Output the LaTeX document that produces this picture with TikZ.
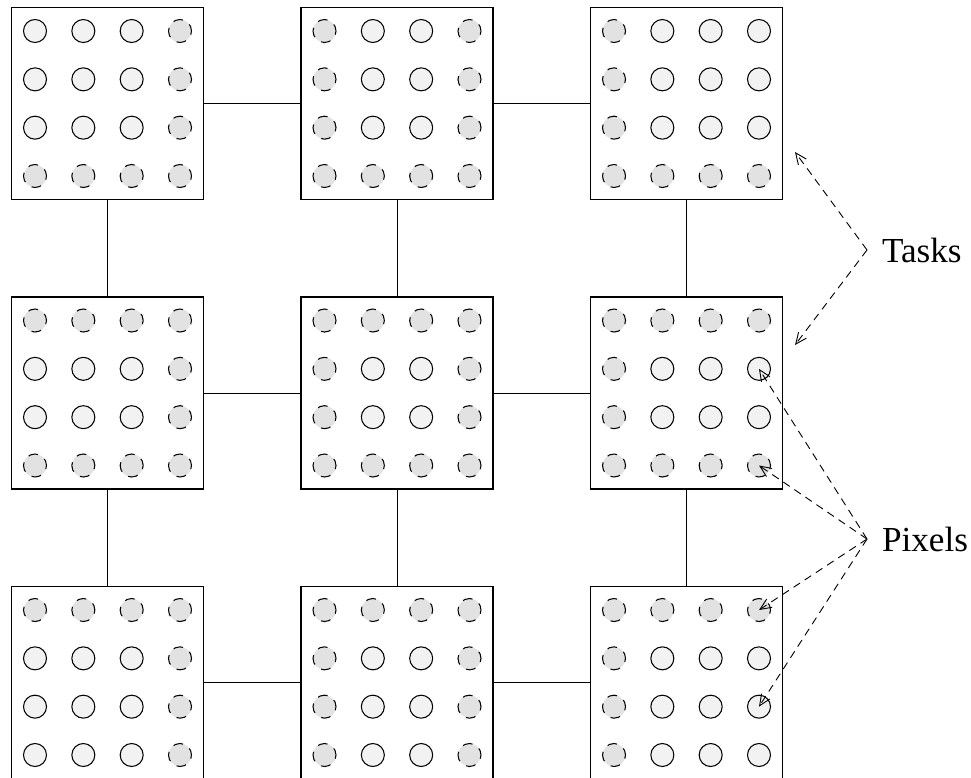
\documentclass[tikz,border=0pt]{standalone}
\usepackage{fontspec}
\setmainfont{Liberation Serif}
\usetikzlibrary{arrows.meta}
\definecolor{pixgray}{HTML}{F2F2F2}
\definecolor{ghostgray}{HTML}{E2E2E2}

\begin{document}
\begin{tikzpicture}[x=0.025cm, y=-0.025cm,
  task/.style={draw, line width=0.8pt, minimum size=4.8cm, inner sep=0pt},
  pixel/.style={circle, draw, line width=0.75pt, fill=pixgray, minimum size=0.575cm, inner sep=0pt},
  ghost/.style={pixel, fill=ghostgray, dash pattern=on 7pt off 5.6pt, dash phase=2pt},
  link/.style={line width=0.7pt},
  pointer/.style={line width=0.65pt, dash pattern=on 5.5pt off 4pt, -{Straight Barb[length=8pt,width=7pt]}},
  callout/.style={anchor=west, inner xsep=10.5pt, font=\fontsize{25}{30}\selectfont}]
\useasboundingbox (0,0) rectangle (971,777);
% Draw the tasks and their pixels, the border pixels of each task are dashed
\foreach \r in {1,2,3}
  \foreach \c in {1,2,3}
  {
    \node[task] (t\r\c) at ({107.5+289.5*(\c-1)}, {103.5+289.5*(\r-1)}) {};
    \foreach \i in {1,...,4}
      \foreach \j in {1,...,4}
      {
        \pgfmathtruncatemacro\isghost{(\i==1 && \r>1) || (\i==4 && \r<3) || (\j==1 && \c>1) || (\j==4 && \c<3)}
        \ifnum\isghost=1
          \node[ghost] (p\r\c\i\j) at ({107.5+289.5*(\c-1)+48.33*(\j-2.5)}, {103.5+289.5*(\r-1)+48.33*(\i-2.5)}) {};
        \else
          \node[pixel] (p\r\c\i\j) at ({107.5+289.5*(\c-1)+48.33*(\j-2.5)}, {103.5+289.5*(\r-1)+48.33*(\i-2.5)}) {};
        \fi
      }
  }
% Connect neighbouring tasks
\foreach \r in {1,2,3} {\draw[link] (t\r1) -- (t\r2); \draw[link] (t\r2) -- (t\r3);}
\foreach \c in {1,2,3} {\draw[link] (t1\c) -- (t2\c); \draw[link] (t2\c) -- (t3\c);}
% Label the tasks
\node[callout] (tasks) at (867,250) {Tasks};
\coordinate (upper task) at (795,152);
\coordinate (lower task) at (795,345);
\draw[pointer] (tasks.west) -- (upper task);
\draw[pointer] (tasks.west) -- (lower task);
% Label the pixels
\node[callout] (pixels) at (867,539) {Pixels};
\foreach \p in {p2324,p2344,p3314,p3334}
  \draw[pointer] (pixels.west) -- (\p.center);
\end{tikzpicture}
\end{document}
